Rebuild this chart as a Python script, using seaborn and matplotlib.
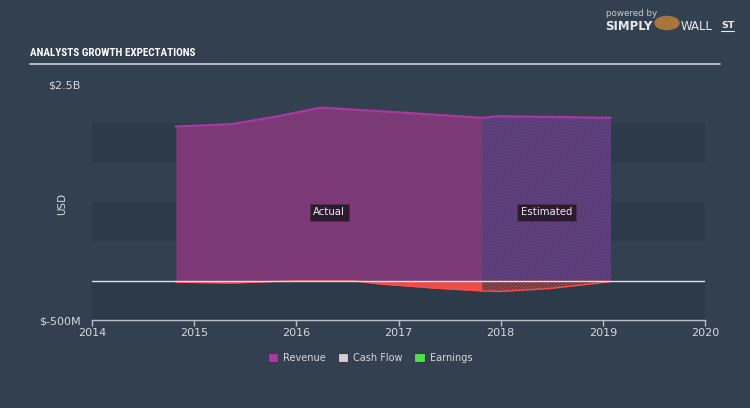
import numpy as np
import pandas as pd
import matplotlib
matplotlib.use("Agg")
import matplotlib.pyplot as plt
from matplotlib import font_manager
from matplotlib.patches import Patch, Circle
from matplotlib.lines import Line2D
import seaborn as sns

# ---- data (values in $B) ----
rev_years = [2014.82, 2015.37, 2015.82, 2016.24, 2016.99, 2017.82, 2017.97, 2019.08]
revenue = [1.96, 1.99, 2.09, 2.20, 2.14, 2.07, 2.09, 2.07]
earn_years = [2014.82, 2015.37, 2016.0, 2016.56, 2016.8, 2017.31, 2017.82, 2017.99, 2018.48, 2019.08]
earnings = [-0.02, -0.03, 0.0, 0.0, -0.04, -0.09, -0.13, -0.137, -0.10, -0.013]
split_year = 2017.82
x_ticks = [2014, 2015, 2016, 2017, 2018, 2019, 2020]
y_ticks = [-0.5, 2.5]
y_tick_labels = ["$-500M", "$2.5B"]
legend_labels = ["Revenue", "Cash Flow", "Earnings"]

BG = "#334050"
BAND = "#2d3a4a"
PURPLE = "#7b3a75"
PURPLE_LINE = "#a8399e"
RED = "#e84f4c"
RED_LINE = "#ff4f45"
TXT = "#d5d9de"

sns.set_theme(style="white")
plt.rcParams["font.family"] = ["DejaVu Sans"]
plt.rcParams["hatch.linewidth"] = 1.0

# pick a condensed bold font for the title if one is installed
title_font = None
title_stretch = "normal"
names = {f.name for f in font_manager.fontManager.ttflist}
for cand in ["Liberation Sans Narrow", "DejaVu Sans Condensed", "Roboto Condensed",
             "Open Sans Condensed", "Noto Sans Condensed"]:
    if cand in names:
        title_font = cand
        break
if title_font is None:
    for f in font_manager.fontManager.ttflist:
        if f.name == "DejaVu Sans" and "condensed" in str(f.stretch).lower() and "bold" in str(f.weight).lower():
            title_font = "DejaVu Sans"
            title_stretch = "condensed"
            break
if title_font is None:
    for f in font_manager.fontManager.ttflist:
        if "condensed" in str(f.stretch).lower() or "Condensed" in f.name or "Narrow" in f.name:
            title_font = f.name
            title_stretch = f.stretch
            break
if title_font is None:
    title_font = "Roboto"
    title_size = 7.0
else:
    title_size = 8.0

fig = plt.figure(figsize=(7.5, 4.08), dpi=100, facecolor=BG)
ax = fig.add_axes([92 / 750, 1 - 320 / 408, (705 - 92) / 750, (320 - 84) / 408])
ax.set_facecolor(BG)
ax.set_xlim(2014, 2020)
ax.set_ylim(-0.5, 2.5)

# alternating bands
for lo, hi in [(-0.5, 0.0), (0.5, 1.0), (1.5, 2.0)]:
    ax.axhspan(lo, hi, color=BAND, lw=0, zorder=0)

rev = pd.DataFrame({"year": rev_years, "value": revenue})
earn = pd.DataFrame({"year": earn_years, "value": earnings})

ra = rev[rev.year <= split_year]
re_ = rev[rev.year >= split_year]
ea = earn[earn.year <= split_year]
ee = earn[earn.year >= split_year]

# revenue area
ax.fill_between(ra.year, 0, ra.value, color=PURPLE, lw=0, zorder=2)
ax.fill_between(re_.year, 0, re_.value, facecolor="#8a3a88", edgecolor="#3d4270",
                hatch="//////////", lw=0, zorder=2)
sns.lineplot(data=rev, x="year", y="value", color=PURPLE_LINE, lw=1.6, ax=ax,
             zorder=3, legend=False)

# earnings area (negative -> red)
ax.fill_between(ea.year, 0, ea.value, color=RED, lw=0, zorder=2)
ax.fill_between(ee.year, 0, ee.value, facecolor="#d04a48", edgecolor="#4a3a48",
                hatch="//////////", lw=0, zorder=2)
sns.lineplot(data=earn, x="year", y="value", color=RED_LINE, lw=1.0, ax=ax,
             zorder=3, legend=False)

# zero line
ax.axhline(0, color="#dfe3e8", lw=1.0, zorder=4)

# Actual / Estimated labels
xa = (rev_years[0] + split_year) / 2
xe = (split_year + rev_years[-1]) / 2
for xx, t in [(xa, "Actual"), (xe, "Estimated")]:
    ax.text(xx, 0.87, t, color="#ececf2", fontsize=7.3, ha="center", va="center",
            zorder=6, bbox=dict(boxstyle="square,pad=0.35", fc="#2e1a30", ec="#4a2f4c", lw=0.6))

# axes styling
for s in ["top", "right", "left"]:
    ax.spines[s].set_visible(False)
ax.spines["bottom"].set_color("#b8c0ca")
ax.spines["bottom"].set_linewidth(1.0)
ax.set_xticks(x_ticks)
ax.set_xticklabels([str(v) for v in x_ticks])
ax.tick_params(axis="x", colors="#b8c0ca", labelcolor=TXT, labelsize=8,
               direction="out", length=4, width=1, pad=2, bottom=True)
ax.set_yticks(y_ticks)
ax.set_yticklabels(y_tick_labels)
ax.tick_params(axis="y", length=0, labelsize=8, labelcolor=TXT, pad=8)
ax.set_xlabel("")
ax.set_ylabel("")
ax.grid(False)
fig.text(62 / 750, 1 - 204 / 408, "USD", color=TXT, fontsize=7.5, rotation=90,
         ha="center", va="center")

# legend
handles = [Patch(facecolor="#a8399e", edgecolor="#3b3550", lw=0.8),
           Patch(facecolor="#d0d0d0", edgecolor="#3b3550", lw=0.8),
           Patch(facecolor="#4ee04b", edgecolor="#3b3550", lw=0.8)]
leg = fig.legend(handles, legend_labels, loc="center", bbox_to_anchor=(370 / 750, 1 - 358 / 408),
                 ncol=3, frameon=False, fontsize=7, handlelength=1.1, handleheight=1.1,
                 columnspacing=1.2, handletextpad=0.5)
for t in leg.get_texts():
    t.set_color(TXT)

# title + rule
fig.text(30 / 750, 1 - 53 / 408, "ANALYSTS GROWTH EXPECTATIONS", color="#ffffff",
         fontsize=title_size, fontweight="bold", family=[title_font, "DejaVu Sans"],
         fontstretch=title_stretch, va="center", ha="left")
fig.add_artist(Line2D([30 / 750, 720 / 750], [1 - 64 / 408, 1 - 64 / 408],
                      color="#c9cfd6", lw=1.2, transform=fig.transFigure))

# logo
fig.text(606 / 750, 1 - 14 / 408, "powered by", color="#c5cad0", fontsize=6.3, va="center", ha="left")
fig.text(605 / 750, 1 - 26 / 408, "SIMPLY", color="#e8eaee", fontsize=8.5, fontweight="bold",
         va="center", ha="left")
fig.add_artist(Circle((667 / 750, 1 - 23 / 408), 0.016, transform=fig.transFigure,
                      color="#a8763a", zorder=5))
fig.text(681 / 750, 1 - 26 / 408, "WALL", color="#e8eaee", fontsize=8.5, va="center", ha="left")
fig.text(721 / 750, 1 - 25 / 408, "ST", color="#e8eaee", fontsize=6.8, fontweight="bold",
         va="center", ha="left")
fig.add_artist(Line2D([721 / 750, 734 / 750], [1 - 31 / 408, 1 - 31 / 408],
                      color="#e8eaee", lw=0.8, transform=fig.transFigure))

fig.savefig("out.png", dpi=100, facecolor=BG)
